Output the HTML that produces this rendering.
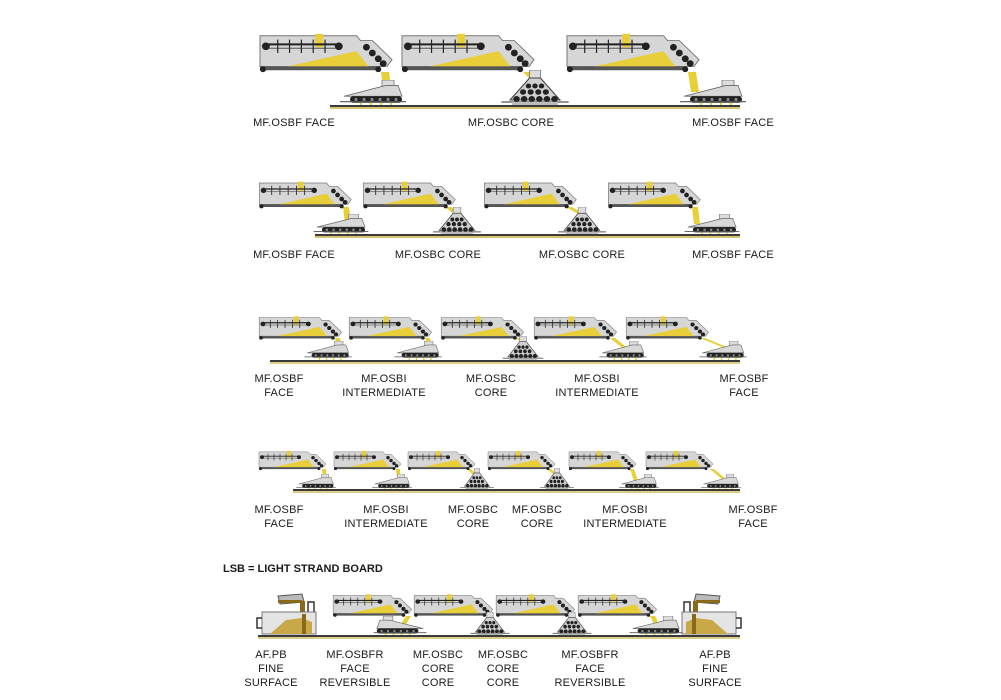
<!DOCTYPE html>
<html><head><meta charset="utf-8">
<style>
body{margin:0;background:#fff;width:1001px;height:700px;position:relative;overflow:hidden;font-family:"Liberation Sans",sans-serif}
svg{position:absolute;left:0;top:0}
.l{position:absolute;width:140px;margin-left:-70px;text-align:center;font-size:11px;line-height:14px;color:#1a1a1a;letter-spacing:0.2px}
</style></head><body>
<svg width="1001" height="700" viewBox="0 0 1001 700">
<defs>
<symbol id="bin" viewBox="0 0 140 48" preserveAspectRatio="none">
<polygon points="2,6 100,6 104,11 116,11 136,31 131,38 2,38" fill="#d6d6d6" stroke="#777" stroke-width="1"/>
<polygon points="30,38 100,22 112,38" fill="#e8cf3a"/>
<rect x="58" y="4" width="8" height="14" fill="#e8cf3a"/>
<line x1="7" y1="15" x2="82" y2="15" stroke="#222" stroke-width="2"/>
<line x1="7" y1="19" x2="82" y2="19" stroke="#555" stroke-width="1"/>
<circle cx="8" cy="17" r="4" fill="#222"/><circle cx="82" cy="17" r="4" fill="#222"/>
<g stroke="#222" stroke-width="1.2"><line x1="20" y1="10" x2="20" y2="24"/><line x1="32" y1="10" x2="32" y2="24"/><line x1="44" y1="10" x2="44" y2="24"/><line x1="56" y1="10" x2="56" y2="24"/><line x1="68" y1="10" x2="68" y2="24"/></g>
<g fill="#222"><circle cx="110" cy="18" r="3.5"/><circle cx="116" cy="24" r="3.5"/><circle cx="122" cy="30" r="3.5"/><circle cx="127" cy="35" r="3.5"/></g>
<rect x="2" y="38" width="122" height="4" fill="#555"/>
<circle cx="5" cy="41" r="3" fill="#222"/><circle cx="122" cy="41" r="3" fill="#222"/>
</symbol>
<symbol id="face" viewBox="0 0 70 24" preserveAspectRatio="none">
<rect x="44" y="0" width="12" height="10" fill="#ddd" stroke="#777" stroke-width="0.8"/>
<polygon points="6,15 48,5 60,5 64,15" fill="#d8d8d8" stroke="#666" stroke-width="0.8"/>
<rect x="12" y="15" width="52" height="6" rx="3" fill="#222"/>
<g fill="#888"><circle cx="18" cy="18" r="1.5"/><circle cx="26" cy="18" r="1.5"/><circle cx="34" cy="18" r="1.5"/><circle cx="42" cy="18" r="1.5"/><circle cx="50" cy="18" r="1.5"/><circle cx="58" cy="18" r="1.5"/></g>
<line x1="2" y1="20" x2="68" y2="20" stroke="#555" stroke-width="1"/>
<g fill="#e8cf3a"><rect x="22" y="21" width="2" height="3"/><rect x="32" y="21" width="2" height="3"/><rect x="42" y="21" width="2" height="3"/><rect x="52" y="21" width="2" height="3"/></g>
</symbol>
<symbol id="core" viewBox="0 0 70 36" preserveAspectRatio="none">
<rect x="30" y="0" width="10" height="10" fill="#ddd" stroke="#777" stroke-width="0.8"/>
<polygon points="12,30 30,8 40,8 58,30" fill="#d0d0d0" stroke="#444" stroke-width="1"/>
<g fill="#222"><circle cx="29" cy="16" r="2.5"/><circle cx="35" cy="16" r="2.5"/><circle cx="41" cy="16" r="2.5"/>
<circle cx="24" cy="22" r="2.8"/><circle cx="31" cy="22" r="2.8"/><circle cx="38" cy="22" r="2.8"/><circle cx="45" cy="22" r="2.8"/>
<circle cx="18" cy="29" r="3"/><circle cx="25" cy="29" r="3"/><circle cx="32" cy="29" r="3"/><circle cx="39" cy="29" r="3"/><circle cx="46" cy="29" r="3"/><circle cx="53" cy="29" r="3"/></g>
<line x1="4" y1="32" x2="66" y2="32" stroke="#555" stroke-width="1.2"/>
<rect x="14" y="32" width="42" height="3" fill="#bbb"/>
</symbol>
<symbol id="afpb" viewBox="0 0 70 44" preserveAspectRatio="none">
<polygon points="22,4 46,2 48,10 24,12" fill="#bbb" stroke="#555" stroke-width="1"/>
<rect x="22" y="8" width="24" height="3" fill="#8a6a1a"/>
<rect x="44" y="9" width="5" height="24" fill="#8a6a1a"/>
<rect x="52" y="10" width="6" height="12" fill="none" stroke="#333" stroke-width="1.5"/>
<rect x="6" y="20" width="54" height="22" fill="#e4e4e4" stroke="#777" stroke-width="1"/>
<polygon points="14,42 30,28 46,26 56,30 56,42" fill="#c9a84a"/>
<rect x="46" y="22" width="4" height="20" fill="#8a6a1a"/>
<path d="M6 26 H1 V36 H6" fill="none" stroke="#333" stroke-width="1.5"/>
</symbol>
</defs>
<g fill="#e8cf3a">
<!-- row1 streams -->
<polygon points="381,72 389,72 392,92 384,92"/><polygon points="523,72 531,72 536,76 531,80"/><polygon points="688,72 696,72 699,92 691,92"/>
<!-- row2 -->
<polygon points="343,207 349,207 351,224 345,224"/><polygon points="445,207 451,207 460,214 454,214"/><polygon points="566,207 572,207 584,214 578,214"/><polygon points="692,207 698,207 700,224 694,224"/>
<!-- row3 -->
<polygon points="335,338 340,338 343,350 338,350"/><polygon points="425,338 430,338 433,350 428,350"/><polygon points="515,338 520,338 525,341 520,341"/><polygon points="610,338 615,338 630,350 625,350"/><polygon points="700,338 705,338 734,350 729,350"/>
<!-- row4 -->
<polygon points="322,469 326,469 327,481 323,481"/><polygon points="396,469 400,469 401,481 397,481"/><polygon points="467,469 471,469 476,474 472,474"/><polygon points="547,469 551,469 557,474 553,474"/><polygon points="630,469 634,469 638,481 634,481"/><polygon points="710,469 714,469 728,481 724,481"/>
<!-- row5 -->
<polygon points="406,616 411,616 405,626 400,626"/><polygon points="487,616 492,616 492,620 487,620"/><polygon points="568,616 573,616 574,620 569,620"/><polygon points="650,616 655,616 660,626 655,626"/>
</g>
<!-- row1 -->
<use href="#bin" x="258" y="30" width="138" height="46"/>
<use href="#bin" x="400" y="30" width="138" height="46"/>
<use href="#bin" x="565" y="30" width="138" height="46"/>
<use href="#face" x="338" y="80" width="70" height="26"/>
<use href="#core" x="497" y="70" width="76" height="36"/>
<use href="#face" x="678" y="80" width="70" height="26"/>
<line x1="330" y1="106" x2="740" y2="106" stroke="#3a3a3a" stroke-width="2"/><line x1="330" y1="108" x2="740" y2="108" stroke="#c8b040" stroke-width="1.5"/>
<!-- row2 -->
<use href="#bin" x="258" y="179" width="96" height="32"/>
<use href="#bin" x="362" y="179" width="96" height="32"/>
<use href="#bin" x="483" y="179" width="96" height="32"/>
<use href="#bin" x="607" y="179" width="96" height="32"/>
<use href="#face" x="312" y="214" width="58" height="21"/>
<use href="#core" x="430" y="207" width="54" height="28"/>
<use href="#core" x="555" y="207" width="54" height="28"/>
<use href="#face" x="683" y="214" width="58" height="21"/>
<line x1="315" y1="235" x2="740" y2="235" stroke="#3a3a3a" stroke-width="2"/><line x1="315" y1="237" x2="740" y2="237" stroke="#c8b040" stroke-width="1.5"/>
<!-- row3 -->
<use href="#bin" x="258" y="314" width="86" height="28"/>
<use href="#bin" x="348" y="314" width="86" height="28"/>
<use href="#bin" x="440" y="314" width="86" height="28"/>
<use href="#bin" x="533" y="314" width="86" height="28"/>
<use href="#bin" x="625" y="314" width="86" height="28"/>
<use href="#face" x="303" y="341" width="50" height="19"/>
<use href="#face" x="393" y="341" width="50" height="19"/>
<use href="#core" x="500" y="336" width="46" height="25"/>
<use href="#face" x="598" y="341" width="50" height="19"/>
<use href="#face" x="698" y="341" width="50" height="19"/>
<line x1="270" y1="361" x2="740" y2="361" stroke="#3a3a3a" stroke-width="2"/><line x1="270" y1="363" x2="740" y2="363" stroke="#c8b040" stroke-width="1.2"/>
<!-- row4 -->
<use href="#bin" x="258" y="449" width="70" height="23"/>
<use href="#bin" x="333" y="449" width="70" height="23"/>
<use href="#bin" x="407" y="449" width="70" height="23"/>
<use href="#bin" x="487" y="449" width="70" height="23"/>
<use href="#bin" x="568" y="449" width="70" height="23"/>
<use href="#bin" x="645" y="449" width="70" height="23"/>
<use href="#face" x="295" y="474" width="42" height="16"/>
<use href="#face" x="371" y="474" width="42" height="16"/>
<use href="#core" x="458" y="468" width="38" height="22"/>
<use href="#core" x="538" y="468" width="38" height="22"/>
<use href="#face" x="618" y="474" width="42" height="16"/>
<use href="#face" x="700" y="474" width="42" height="16"/>
<line x1="293" y1="490" x2="740" y2="490" stroke="#3a3a3a" stroke-width="2"/><line x1="293" y1="492" x2="740" y2="492" stroke="#c8b040" stroke-width="1.2"/>
<!-- row5 -->
<use href="#afpb" x="256" y="592" width="70" height="44"/>
<g transform="translate(742,0) scale(-1,1)"><use href="#afpb" x="0" y="592" width="70" height="44"/></g>
<use href="#bin" x="332" y="592" width="82" height="27"/>
<use href="#bin" x="413" y="592" width="82" height="27"/>
<use href="#bin" x="495" y="592" width="82" height="27"/>
<use href="#bin" x="577" y="592" width="82" height="27"/>
<use href="#face" x="372" y="616" width="56" height="20" transform="translate(800,0) scale(-1,1)"/>
<use href="#core" x="468" y="612" width="44" height="24"/>
<use href="#core" x="550" y="612" width="44" height="24"/>
<use href="#face" x="628" y="616" width="56" height="20"/>
<line x1="258" y1="636" x2="740" y2="636" stroke="#3a3a3a" stroke-width="2"/><line x1="258" y1="638" x2="740" y2="638" stroke="#c8b040" stroke-width="1.2"/>
</svg>

<div class="l" style="left:294px;top:116px">MF.OSBF FACE</div>
<div class="l" style="left:511px;top:116px">MF.OSBC CORE</div>
<div class="l" style="left:733px;top:116px">MF.OSBF FACE</div>

<div class="l" style="left:294px;top:248px">MF.OSBF FACE</div>
<div class="l" style="left:438px;top:248px">MF.OSBC CORE</div>
<div class="l" style="left:582px;top:248px">MF.OSBC CORE</div>
<div class="l" style="left:733px;top:248px">MF.OSBF FACE</div>

<div class="l" style="left:279px;top:372px">MF.OSBF<br>FACE</div>
<div class="l" style="left:384px;top:372px">MF.OSBI<br>INTERMEDIATE</div>
<div class="l" style="left:491px;top:372px">MF.OSBC<br>CORE</div>
<div class="l" style="left:597px;top:372px">MF.OSBI<br>INTERMEDIATE</div>
<div class="l" style="left:744px;top:372px">MF.OSBF<br>FACE</div>

<div class="l" style="left:279px;top:503px">MF.OSBF<br>FACE</div>
<div class="l" style="left:386px;top:503px">MF.OSBI<br>INTERMEDIATE</div>
<div class="l" style="left:473px;top:503px">MF.OSBC<br>CORE</div>
<div class="l" style="left:537px;top:503px">MF.OSBC<br>CORE</div>
<div class="l" style="left:625px;top:503px">MF.OSBI<br>INTERMEDIATE</div>
<div class="l" style="left:753px;top:503px">MF.OSBF<br>FACE</div>

<div style="position:absolute;left:223px;top:563px;font-size:11px;font-weight:bold;color:#1a1a1a">LSB = LIGHT STRAND BOARD</div>

<div class="l" style="left:271px;top:648px">AF.PB<br>FINE<br>SURFACE</div>
<div class="l" style="left:355px;top:648px">MF.OSBFR<br>FACE<br>REVERSIBLE</div>
<div class="l" style="left:438px;top:648px">MF.OSBC<br>CORE<br>CORE</div>
<div class="l" style="left:503px;top:648px">MF.OSBC<br>CORE<br>CORE</div>
<div class="l" style="left:590px;top:648px">MF.OSBFR<br>FACE<br>REVERSIBLE</div>
<div class="l" style="left:715px;top:648px">AF.PB<br>FINE<br>SURFACE</div>
</body></html>
